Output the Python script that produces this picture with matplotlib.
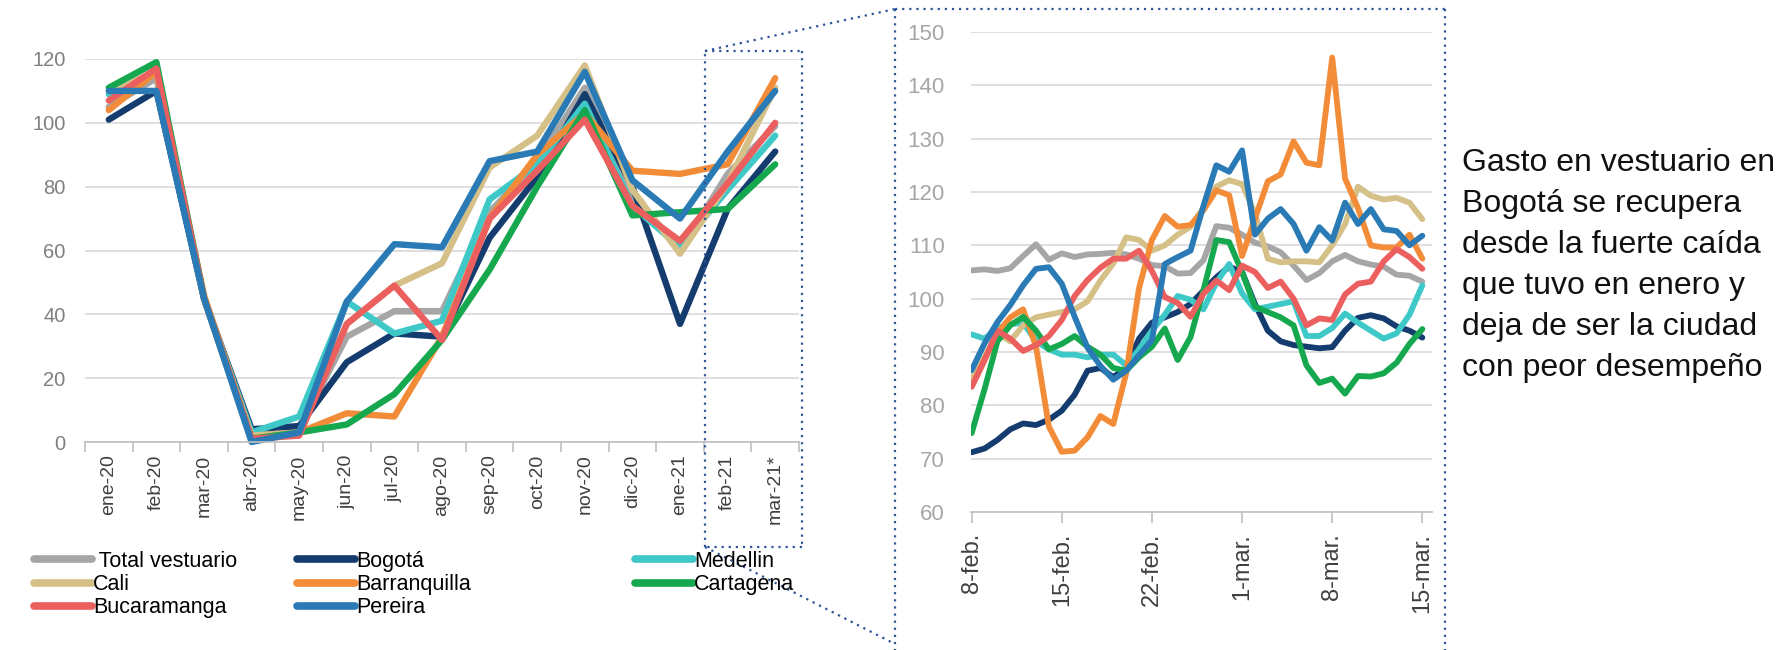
import matplotlib
matplotlib.use('Agg')
import matplotlib.pyplot as plt
from matplotlib.lines import Line2D
import numpy as np

# --- datos mensuales (panel izquierdo) ---
meses = ['ene-20', 'feb-20', 'mar-20', 'abr-20', 'may-20', 'jun-20', 'jul-20', 'ago-20',
         'sep-20', 'oct-20', 'nov-20', 'dic-20', 'ene-21', 'feb-21', 'mar-21*']

total_m = [105, 114, 45, 2, 4, 33, 41, 41, 72, 88, 111, 78, 60, 84, 99]
bogota_m = [101, 110, 45, 4, 5, 25, 34, 33, 64, 83, 109, 80, 37, 73, 91]
medellin_m = [109, 116, 45, 3, 8, 44, 34, 38, 76, 87, 106, 74, 61, 79, 96]
cali_m = [110, 116, 45, 2, 3, 37, 49, 56, 86, 96, 118, 79, 59, 81, 111]
barranquilla_m = [104, 116, 46, 1, 3, 9, 8, 33, 70, 90, 103, 85, 84, 87, 114]
cartagena_m = [111, 119, 45, 1, 3, 5.5, 15, 32, 54, 80, 104, 71, 72, 73, 87]
bucaramanga_m = [107, 117, 45, 1, 2, 37, 49, 32, 70, 85, 101, 74, 63, 81, 100]
pereira_m = [110, 110, 45, 0, 3, 44, 62, 61, 88, 91, 116, 82, 70, 91, 110]

# --- datos diarios 8-feb a 15-mar (panel derecho) ---
etiquetas_dias = ['8-feb.', '15-feb.', '22-feb.', '1-mar.', '8-mar.', '15-mar.']

total_d = [105.3, 105.5, 105.2, 105.7, 108.0, 110.2, 107.3, 108.5, 107.8, 108.3, 108.4, 108.6,
           108.3, 107.5, 106.3, 106.1, 104.7, 104.8, 107.2, 113.6, 113.3, 112.0, 110.5, 109.8,
           108.7, 106.2, 103.5, 104.8, 107.0, 108.2, 107.0, 106.4, 106.0, 104.5, 104.3, 103.2]
bogota_d = [71.2, 71.9, 73.5, 75.5, 76.6, 76.3, 77.3, 79.0, 82.0, 86.5, 87.0, 85.3,
            87.0, 92.5, 95.5, 96.5, 97.5, 99.0, 101.5, 104.0, 106.0, 105.0, 99.0, 94.0,
            92.0, 91.3, 91.0, 90.7, 90.9, 94.0, 96.4, 96.9, 96.3, 94.8, 94.0, 92.7]
medellin_d = [93.3, 92.5, 94.5, 95.2, 95.5, 92.0, 90.5, 89.5, 89.5, 89.0, 89.5, 89.5,
              87.5, 90.5, 94.0, 97.0, 100.5, 99.8, 98.0, 103.0, 106.5, 101.0, 98.0, 98.5,
              99.0, 99.5, 93.0, 93.0, 94.5, 97.2, 95.5, 94.0, 92.5, 93.5, 97.0, 102.5]
cali_d = [85.0, 89.0, 93.5, 92.0, 95.0, 96.5, 97.0, 97.5, 98.0, 99.5, 103.4, 106.6,
          111.5, 111.0, 109.0, 110.0, 112.0, 113.5, 117.0, 121.0, 122.2, 121.5, 116.0, 107.5,
          106.8, 107.0, 107.0, 106.8, 110.0, 114.0, 121.0, 119.3, 118.6, 118.9, 118.0, 114.9]
barranquilla_d = [83.5, 88.5, 93.5, 96.5, 98.0, 91.0, 76.0, 71.3, 71.5, 74.0, 78.0, 76.5,
                  86.0, 102.0, 111.0, 115.5, 113.5, 113.8, 116.6, 120.3, 119.4, 108.0, 115.0, 122.0,
                  123.3, 129.5, 125.5, 125.0, 145.2, 122.5, 117.0, 110.0, 109.6, 109.6, 112.0, 107.5]
cartagena_d = [74.8, 83.0, 92.0, 95.0, 96.6, 94.0, 90.5, 91.5, 93.0, 91.0, 89.5, 87.0,
               86.5, 89.0, 91.0, 94.4, 88.5, 92.8, 101.6, 111.0, 110.6, 105.0, 98.5, 97.5,
               96.5, 95.0, 87.5, 84.2, 85.0, 82.2, 85.5, 85.4, 86.0, 88.0, 91.5, 94.3]
bucaramanga_d = [83.5, 88.5, 94.0, 92.5, 90.2, 91.3, 93.0, 96.0, 100.5, 103.5, 105.8, 107.5,
                 107.5, 109.0, 105.2, 100.3, 99.2, 96.6, 100.9, 103.4, 101.6, 106.2, 105.0, 102.0,
                 103.2, 100.0, 95.0, 96.3, 96.0, 100.8, 102.8, 103.2, 107.0, 109.3, 107.8, 105.6]
pereira_d = [86.6, 91.6, 95.6, 98.8, 102.5, 105.6, 105.9, 102.8, 96.6, 90.8, 87.4, 84.8,
             86.5, 89.4, 92.2, 106.5, 107.8, 109.0, 117.4, 125.0, 123.8, 127.8, 112.0, 115.0,
             116.8, 114.0, 109.0, 113.4, 110.9, 118.0, 114.0, 116.8, 113.0, 112.7, 110.0, 111.8]

nombres = [' Total vestuario', 'Bogotá', 'Medellin', 'Cali', 'Barranquilla', 'Cartagena',
           'Bucaramanga', 'Pereira']
colores = ['#A6A6A6', '#143C6E', '#3FC8C8', '#D5C088', '#F28C38', '#16A84F', '#EC5F5F', '#2A7AB5']

series_m = [total_m, bogota_m, medellin_m, cali_m, barranquilla_m, cartagena_m, bucaramanga_m, pereira_m]
series_d = [total_d, bogota_d, medellin_d, cali_d, barranquilla_d, cartagena_d, bucaramanga_d, pereira_d]

W, H = 1777, 650
fig = plt.figure(figsize=(W / 100, H / 100), dpi=100)


def fx(px):
    return px / W


def fy(py):
    return 1 - py / H


grid_col = '#D9D9D9'
eje_col = '#BFBFBF'
narrow = ['Liberation Sans Narrow', 'DejaVu Sans Condensed', 'Liberation Sans']
arial = ['Liberation Sans', 'DejaVu Sans']

# ---------- panel izquierdo ----------
ax1 = fig.add_axes([fx(85), fy(442), (799 - 85) / W, (442 - 59) / H])
x_m = np.arange(len(meses))
for vals, col, nom in zip(series_m, colores, nombres):
    ax1.plot(x_m, vals, color=col, lw=4.6, solid_joinstyle='round',
             solid_capstyle='round', clip_on=False, label=nom)
ax1.set_xlim(-0.5, len(meses) - 0.5)
ax1.set_ylim(0, 120)
ax1.set_yticks(range(0, 121, 20))
ax1.grid(axis='y', color=grid_col, lw=1.2)
ax1.set_axisbelow(True)
for s in ['top', 'right', 'left']:
    ax1.spines[s].set_visible(False)
ax1.spines['bottom'].set_color(eje_col)
ax1.spines['bottom'].set_linewidth(1.2)
ax1.set_xticks(x_m)
ax1.set_xticklabels(meses, rotation=90, family=arial, fontsize=14, color='#404040')
ax1.set_xticks(np.arange(-0.5, len(meses), 1), minor=True)
ax1.tick_params(axis='x', which='major', length=0, pad=9)
ax1.tick_params(axis='x', which='minor', length=7, color=eje_col, width=1.2)
ax1.tick_params(axis='y', length=0, pad=14)
for t in ax1.get_yticklabels():
    t.set_family(narrow)
    t.set_fontsize(14.5)
    t.set_color('#7F7F7F')

# leyenda en tres columnas
cols = [[0, 3, 6], [1, 4, 7], [2, 5]]
xs = [34, 297, 635]
for idx, x0 in zip(cols, xs):
    hs = [Line2D([], [], color=colores[i], lw=5.5, solid_capstyle='round') for i in idx]
    fig.legend(hs, [nombres[i] for i in idx], loc='upper left',
               bbox_to_anchor=(fx(x0), fy(551)), frameon=False, handlelength=2.7,
               handletextpad=0.05, borderpad=0, borderaxespad=0, labelspacing=0.1,
               prop={'family': narrow, 'size': 15.5})

# ---------- panel derecho ----------
ax2 = fig.add_axes([fx(971), fy(512), (1432 - 971) / W, (512 - 32) / H])
x_d = np.arange(len(total_d))
for vals, col in zip(series_d, colores):
    ax2.plot(x_d, vals, color=col, lw=4.2, solid_joinstyle='round', solid_capstyle='round')
ax2.set_xlim(-0.05, len(total_d) - 0.25)
ax2.set_ylim(60, 150)
ax2.set_yticks(range(60, 151, 10))
ax2.grid(axis='y', color=grid_col, lw=1.2)
ax2.set_axisbelow(True)
for s in ['top', 'right', 'left']:
    ax2.spines[s].set_visible(False)
ax2.spines['bottom'].set_color(eje_col)
ax2.spines['bottom'].set_linewidth(1.2)
ax2.set_xticks(x_d[::7])
ax2.set_xticklabels(etiquetas_dias, rotation=90, family=arial, fontsize=17, color='#404040')
ax2.tick_params(axis='x', length=8, color=eje_col, width=1.2, pad=7)
ax2.tick_params(axis='y', length=0, pad=19)
for t in ax2.get_yticklabels():
    t.set_family(arial)
    t.set_fontsize(16)
    t.set_color('#A6A6A6')

# ---------- recuadros punteados ----------
punteado = dict(color='#2F5597', lw=1.6, ls=(0, (1, 2.2)), transform=fig.transFigure)
bx0, bx1, by0, by1 = 705, 802, 51, 547
for xa, ya, xb, yb in [(bx0, by0, bx1, by0), (bx1, by0, bx1, by1), (bx1, by1, bx0, by1),
                       (bx0, by1, bx0, by0)]:
    fig.add_artist(Line2D([fx(xa), fx(xb)], [fy(ya), fy(yb)], **punteado))
Bx0, Bx1, By0, By1 = 895, 1445, 9, 650
for xa, ya, xb, yb in [(Bx0, By0, Bx1, By0), (Bx1, By0, Bx1, By1), (Bx0, By0, Bx0, By1)]:
    fig.add_artist(Line2D([fx(xa), fx(xb)], [fy(ya), fy(yb)], **punteado))
fig.add_artist(Line2D([fx(bx0), fx(Bx0)], [fy(by0), fy(By0)], **punteado))
fig.add_artist(Line2D([fx(bx0), fx(Bx0)], [fy(by1), fy(644)], **punteado))

# ---------- texto ----------
fig.text(fx(1462), fy(148), 'Gasto en vestuario en\nBogotá se recupera\ndesde la fuerte caída\n'
         'que tuvo en enero y\ndeja de ser la ciudad\ncon peor desempeño',
         ha='left', va='top', family=arial, fontsize=23, linespacing=1.48, color='#111111')

fig.savefig('out.png', dpi=100)
